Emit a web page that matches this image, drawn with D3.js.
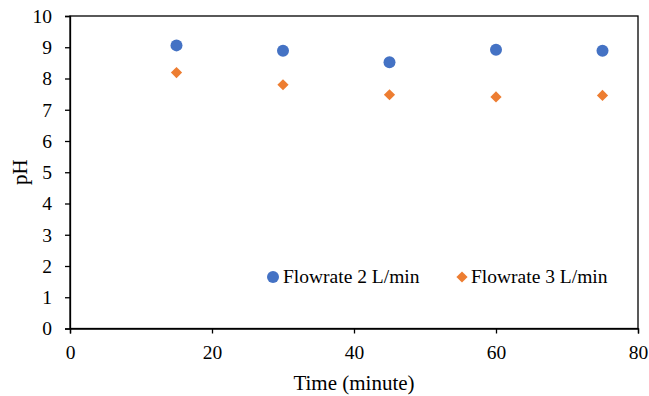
<!DOCTYPE html>
<html><head><meta charset="utf-8">
<script src="https://cdn.jsdelivr.net/npm/d3@7"></script>
<style>body{margin:0;background:#fff}svg{display:block}svg text{font-family:"Liberation Serif","Times New Roman",serif !important;fill:#000}</style>
</head><body><svg id="c" width="649" height="396"></svg>
<script>
const times = [15, 30, 45, 60, 75];
const flow2 = [9.06, 8.89, 8.52, 8.92, 8.89];
const flow3 = [8.19, 7.80, 7.48, 7.41, 7.46];
const seriesNames = ["Flowrate 2 L/min", "Flowrate 3 L/min"];
const xTicks = [0, 20, 40, 60, 80];
const yTicks = [0,1,2,3,4,5,6,7,8,9,10];

const svg = d3.select("#c");
const L = 70, R = 638, T = 16, B = 328.5;
const x = d3.scaleLinear().domain([0, 80]).range([L, R]);
const y = d3.scaleLinear().domain([0, 10]).range([B, T]);

svg.append("rect").attr("x", L).attr("y", T).attr("width", R - L).attr("height", B - T)
  .attr("fill", "none").attr("stroke", "#000").attr("stroke-width", 1.3);

const xa = svg.append("g").attr("transform", `translate(0,${B})`)
  .call(d3.axisBottom(x).tickValues(xTicks).tickSize(5).tickPadding(12).tickFormat(d3.format("d")));
const ya = svg.append("g").attr("transform", `translate(${L},0)`)
  .call(d3.axisLeft(y).tickValues(yTicks).tickSize(5).tickPadding(13).tickFormat(d3.format("d")));
[xa, ya].forEach(a => {
  a.attr("font-size", "19.5").attr("font-family", "Liberation Serif");
  a.select(".domain").attr("stroke", "#000").attr("stroke-width", 1.3);
  a.selectAll(".tick line").attr("stroke", "#000").attr("stroke-width", 1.3);
  a.selectAll("text").attr("font-family", "Liberation Serif").attr("font-size", 19.5)
    .style("font-size", "19.5px").attr("fill", "#000");
});

svg.append("text").attr("x", (L + R) / 2).attr("y", 390).attr("text-anchor", "middle")
  .style("font-size", "21px").text("Time (minute)");
svg.append("text").attr("transform", `translate(27,${(T + B) / 2}) rotate(-90)`).attr("text-anchor", "middle")
  .style("font-size", "21px").text("pH");

const blue = "#4472C4", orange = "#ED7D31";
svg.append("g").selectAll("circle").data(times).join("circle")
  .attr("cx", (d) => x(d)).attr("cy", (d, i) => y(flow2[i])).attr("r", 6).attr("fill", blue);
const diamond = d3.symbol().type(d3.symbolDiamond2).size(80);
svg.append("g").selectAll("path").data(times).join("path")
  .attr("d", diamond).attr("transform", (d, i) => `translate(${x(d)},${y(flow3[i])})`).attr("fill", orange);

const lg = svg.append("g");
lg.append("circle").attr("cx", 273).attr("cy", 277).attr("r", 6).attr("fill", blue);
lg.append("text").attr("x", 283).attr("y", 283).style("font-size", "19.5px").text(seriesNames[0]);
lg.append("path").attr("d", diamond).attr("transform", "translate(462,277)").attr("fill", orange);
lg.append("text").attr("x", 471).attr("y", 283).style("font-size", "19.5px").text(seriesNames[1]);
</script></body></html>
